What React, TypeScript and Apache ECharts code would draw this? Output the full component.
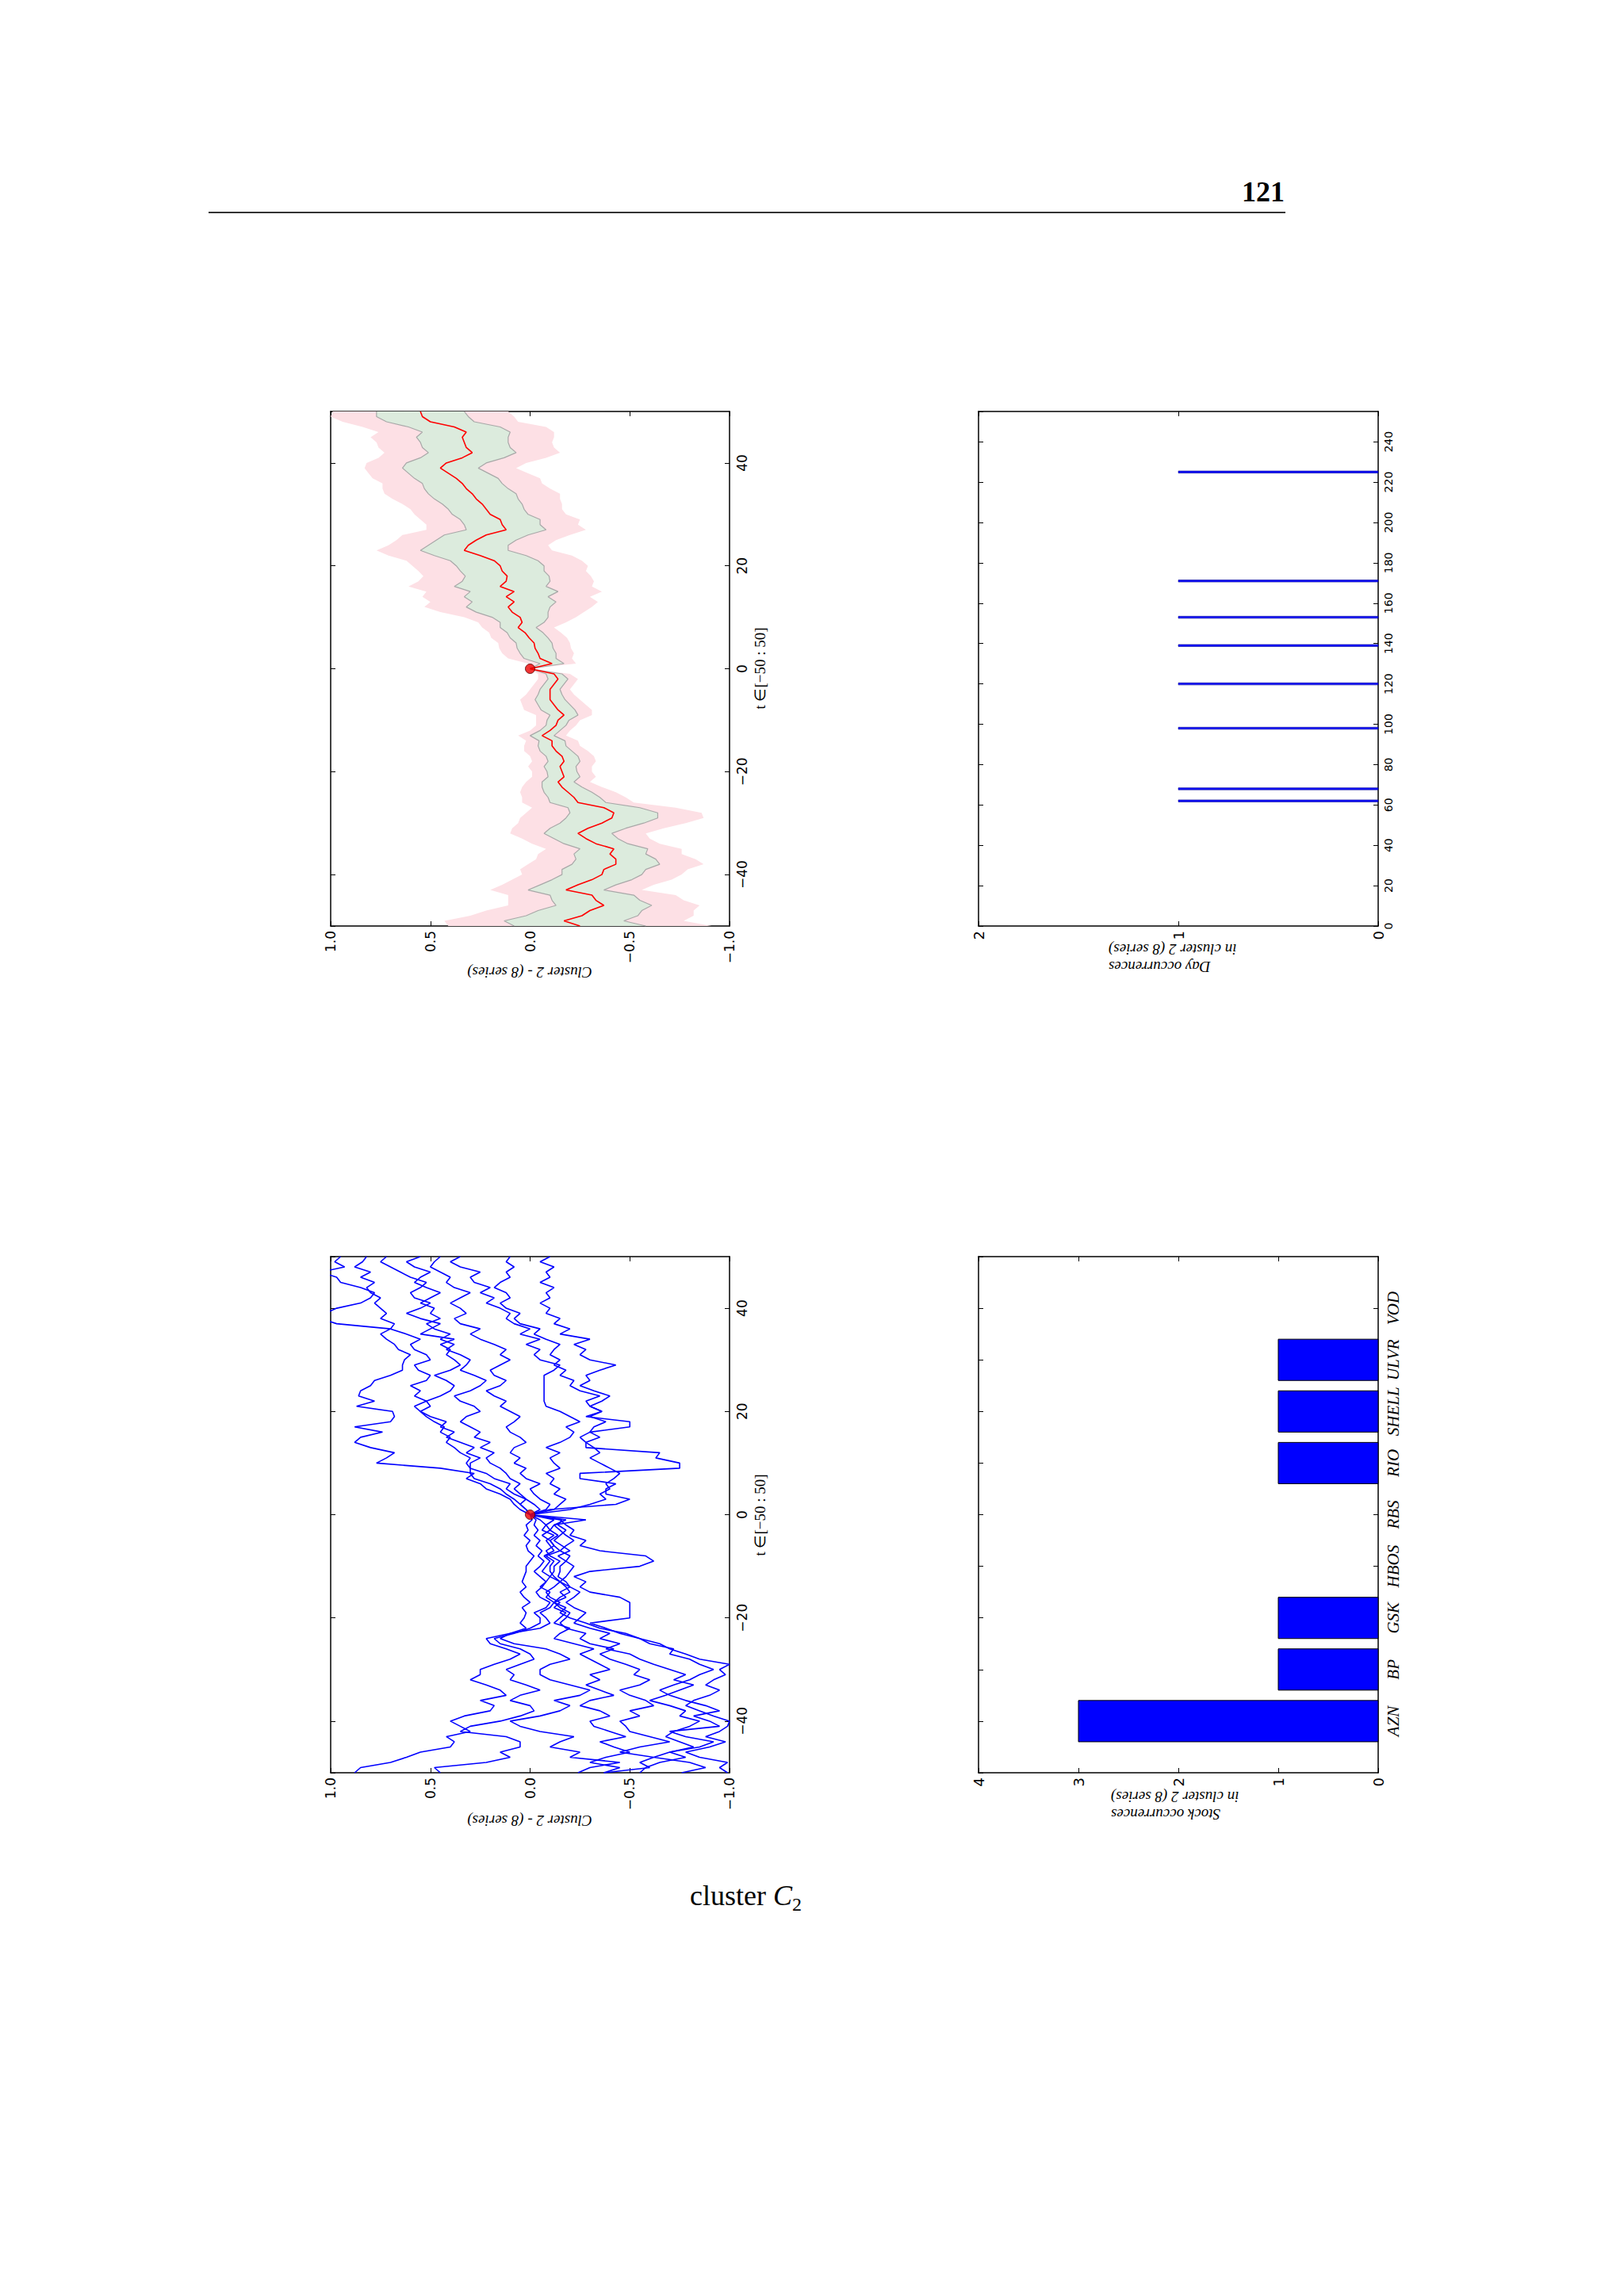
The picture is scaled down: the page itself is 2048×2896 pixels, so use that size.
import React, { useEffect, useRef } from 'react';
import * as echarts from 'echarts';

// ---------- data ----------
const tSteps = Array.from({ length: 101 }, (_, i) => i - 50);

const meanVals = [
  -0.25, -0.17, -0.26, -0.30, -0.37, -0.33, -0.31, -0.18, -0.24, -0.31,
  -0.36, -0.37, -0.43, -0.43, -0.40, -0.42, -0.33, -0.28, -0.24, -0.29,
  -0.36, -0.41, -0.42, -0.37, -0.24, -0.22, -0.19, -0.16, -0.14, -0.17,
  -0.16, -0.15, -0.17, -0.16, -0.13, -0.11, -0.11, -0.06, -0.10, -0.13,
  -0.14, -0.17, -0.14, -0.12, -0.10, -0.10, -0.10, -0.12, -0.14, -0.12,
  0,
  -0.11, -0.05, -0.04, -0.025, -0.02, 0.005, 0.025, 0.06, 0.04, 0.05,
  0.09, 0.11, 0.08, 0.12, 0.08, 0.15, 0.12, 0.115, 0.14, 0.15,
  0.18, 0.25, 0.33, 0.31, 0.27, 0.22, 0.12, 0.14, 0.15, 0.20,
  0.22, 0.24, 0.27, 0.29, 0.32, 0.34, 0.37, 0.41, 0.45, 0.42,
  0.34, 0.29, 0.32, 0.33, 0.34, 0.32, 0.38, 0.50, 0.54, 0.55,
];

const stdVals = [
  0.33, 0.30, 0.28, 0.26, 0.24, 0.22, 0.21, 0.19, 0.19, 0.20,
  0.20, 0.21, 0.22, 0.20, 0.18, 0.17, 0.16, 0.16, 0.17, 0.19,
  0.21, 0.23, 0.22, 0.18, 0.14, 0.13, 0.12, 0.10, 0.08, 0.08,
  0.075, 0.08, 0.08, 0.08, 0.08, 0.07, 0.065, 0.06, 0.05, 0.05,
  0.055, 0.07, 0.085, 0.08, 0.075, 0.06, 0.05, 0.05, 0.05, 0.04,
  0,
  0.06, 0.08, 0.09, 0.09, 0.09, 0.095, 0.09, 0.09, 0.11, 0.14,
  0.18, 0.21, 0.21, 0.21, 0.22, 0.23, 0.22, 0.21, 0.21, 0.22,
  0.22, 0.23, 0.22, 0.20, 0.20, 0.21, 0.20, 0.19, 0.20, 0.19,
  0.19, 0.20, 0.21, 0.22, 0.21, 0.20, 0.21, 0.20, 0.19, 0.20,
  0.21, 0.22, 0.22, 0.22, 0.23, 0.22, 0.23, 0.22, 0.23, 0.22,
];

const seriesA = [
  0.88, 0.85, 0.70, 0.62, 0.55, 0.40, 0.38, 0.42, 0.30, 0.35,
  0.40, 0.33, 0.20, 0.18, 0.25, 0.12, 0.15, 0.22, 0.30, 0.25,
  0.25, 0.18, 0.10, 0.05, 0.12, 0.20, 0.22, 0.10, 0.02, 0.05,
  0.03, 0.02, 0.04, 0.00, 0.03, 0.05, 0.02, 0.04, 0.03, 0.02,
  0.02, 0.00, -0.02, 0.01, 0.02, 0.00, 0.03, 0.01, 0.02, -0.01,
  0,
  0.02, 0.05, 0.08, 0.12, 0.15, 0.20, 0.28, 0.30, 0.30, 0.32,
  0.30, 0.35, 0.38, 0.42, 0.40, 0.45, 0.43, 0.48, 0.52, 0.55,
  0.50, 0.52, 0.58, 0.55, 0.60, 0.52, 0.50, 0.56, 0.58, 0.50,
  0.52, 0.58, 0.60, 0.55, 0.62, 0.70, 0.68, 0.75, 0.72, 0.75,
  0.78, 0.75, 0.80, 0.82, 0.78, 0.85, 0.80, 0.88, 0.84, 0.82,
];
const seriesB = [
  0.45, 0.48, 0.22, 0.10, 0.15, 0.05, 0.05, 0.12, 0.35, 0.30,
  0.15, 0.05, -0.02, 0.00, 0.10, 0.05, -0.05, 0.02, 0.10, 0.08,
  0.12, 0.05, -0.02, 0.00, 0.05, 0.15, 0.18, 0.08, 0.00, -0.05,
  -0.05, -0.02, -0.08, -0.10, -0.05, -0.03, -0.06, -0.08, -0.05, -0.02,
  -0.05, -0.07, -0.04, -0.06, -0.03, -0.05, -0.02, -0.04, -0.02, -0.03,
  0,
  0.05, 0.08, 0.10, 0.15, 0.22, 0.25, 0.32, 0.28, 0.45, 0.77,
  0.72, 0.68, 0.80, 0.88, 0.85, 0.74, 0.88, 0.70, 0.68, 0.69,
  0.87, 0.78, 0.86, 0.85, 0.80, 0.78, 0.70, 0.64, 0.64, 0.63,
  0.60, 0.66, 0.68, 0.72, 0.75, 0.70, 0.97, 1.05, 1.03, 0.97,
  0.85, 0.80, 0.78, 0.85, 0.95, 0.97, 1.05, 0.93, 0.98, 0.95,
];
const seriesC = [
  -0.24, -0.30, -0.45, -0.20, -0.25, -0.10, -0.15, -0.22, -0.05, 0.05,
  0.10, -0.05, -0.15, -0.20, -0.12, -0.25, -0.30, -0.20, -0.10, -0.05,
  -0.05, -0.10, -0.20, -0.15, -0.08, 0.08, 0.15, 0.10, -0.05, -0.10,
  -0.08, -0.05, -0.10, -0.12, -0.08, -0.10, -0.05, -0.08, -0.10, -0.06,
  -0.08, -0.10, -0.07, -0.12, -0.10, -0.08, -0.12, -0.06, -0.08, -0.05,
  0,
  0.02, 0.05, 0.02, 0.08, 0.12, 0.10, 0.18, 0.22, 0.30, 0.30,
  0.25, 0.32, 0.28, 0.35, 0.42, 0.38, 0.45, 0.42, 0.50, 0.55,
  0.58, 0.52, 0.45, 0.40, 0.38, 0.42, 0.48, 0.40, 0.35, 0.38,
  0.42, 0.40, 0.45, 0.38, 0.55, 0.50, 0.45, 0.55, 0.62, 0.55,
  0.50, 0.58, 0.60, 0.55, 0.52, 0.60, 0.65, 0.70, 0.75, 0.72,
];
const seriesD = [
  -0.37, -0.45, -0.30, -0.38, -0.50, -0.42, -0.35, -0.48, -0.40, -0.32,
  -0.30, -0.40, -0.35, -0.25, -0.30, -0.42, -0.35, -0.28, -0.35, -0.30,
  -0.40, -0.35, -0.30, -0.25, -0.32, -0.22, -0.12, -0.15, -0.20, -0.12,
  -0.15, -0.18, -0.12, -0.15, -0.10, -0.08, -0.12, -0.15, -0.10, -0.12,
  -0.12, -0.15, -0.10, -0.08, -0.12, -0.10, -0.06, -0.10, -0.08, -0.12,
  0,
  -0.05, -0.02, 0.02, 0.05, 0.08, 0.05, 0.10, 0.12, 0.15, 0.20,
  0.22, 0.18, 0.25, 0.20, 0.28, 0.25, 0.30, 0.35, 0.32, 0.25,
  0.28, 0.35, 0.38, 0.30, 0.25, 0.22, 0.28, 0.35, 0.32, 0.30,
  0.35, 0.42, 0.38, 0.45, 0.40, 0.48, 0.52, 0.45, 0.50, 0.48,
  0.55, 0.50, 0.45, 0.52, 0.58, 0.55, 0.50, 0.58, 0.62, 0.55,
];
const seriesE = [
  -0.37, -0.60, -0.55, -0.62, -0.45, -0.55, -0.70, -0.60, -0.50, -0.48,
  -0.45, -0.55, -0.50, -0.62, -0.58, -0.50, -0.45, -0.55, -0.60, -0.52,
  -0.55, -0.48, -0.40, -0.35, -0.42, -0.30, -0.25, -0.28, -0.18, -0.15,
  -0.18, -0.20, -0.15, -0.12, -0.18, -0.15, -0.20, -0.18, -0.14, -0.15,
  -0.15, -0.18, -0.14, -0.20, -0.16, -0.12, -0.15, -0.18, -0.14, -0.16,
  0,
  -0.08, -0.10, -0.05, -0.02, 0.00, -0.05, 0.02, 0.05, 0.02, 0.08,
  0.05, 0.10, 0.08, 0.02, 0.05, 0.10, 0.12, 0.08, 0.05, 0.10,
  0.15, 0.12, 0.18, 0.22, 0.15, 0.12, 0.18, 0.20, 0.15, 0.10,
  0.15, 0.12, 0.18, 0.25, 0.30, 0.25, 0.35, 0.38, 0.32, 0.35,
  0.40, 0.35, 0.30, 0.38, 0.42, 0.40, 0.45, 0.50, 0.48, 0.45,
];
const seriesF = [
  -0.55, -0.58, -0.65, -0.78, -0.70, -0.82, -0.75, -0.68, -0.72, -0.80,
  -0.85, -0.75, -0.78, -0.70, -0.60, -0.68, -0.75, -0.82, -0.72, -0.78,
  -0.70, -0.62, -0.55, -0.50, -0.38, -0.45, -0.35, -0.40, -0.30, -0.22,
  -0.25, -0.28, -0.22, -0.18, -0.22, -0.25, -0.20, -0.15, -0.18, -0.20,
  -0.22, -0.18, -0.20, -0.15, -0.18, -0.22, -0.18, -0.15, -0.12, -0.18,
  0,
  -0.12, -0.15, -0.18, -0.12, -0.15, -0.10, -0.12, -0.08, -0.15, -0.12,
  -0.10, -0.15, -0.08, -0.15, -0.20, -0.22, -0.18, -0.25, -0.20, -0.15,
  -0.08, -0.07, -0.07, -0.07, -0.07, -0.07, -0.07, -0.12, -0.15, -0.05,
  -0.02, -0.05, 0.02, -0.05, 0.05, 0.00, 0.08, 0.12, 0.10, 0.15,
  0.22, 0.18, 0.25, 0.20, 0.28, 0.30, 0.25, 0.35, 0.40, 0.35,
];
const seriesG = [
  -0.76, -0.88, -0.80, -0.62, -0.70, -0.85, -0.92, -0.78, -0.70, -0.95,
  -0.90, -0.82, -0.95, -0.88, -0.78, -0.70, -0.65, -0.72, -0.80, -0.85,
  -0.92, -0.85, -0.80, -0.70, -0.72, -0.60, -0.55, -0.45, -0.38, -0.30,
  -0.50, -0.50, -0.50, -0.50, -0.45, -0.30, -0.25, -0.28, -0.22, -0.30,
  -0.55, -0.62, -0.58, -0.35, -0.25, -0.28, -0.20, -0.22, -0.18, -0.15,
  0,
  -0.20, -0.30, -0.38, -0.35, -0.40, -0.38, -0.42, -0.45, -0.40, -0.35,
  -0.30, -0.35, -0.32, -0.28, -0.35, -0.30, -0.32, -0.38, -0.30, -0.36,
  -0.30, -0.28, -0.35, -0.25, -0.20, -0.22, -0.15, -0.18, -0.12, -0.15,
  -0.10, -0.12, -0.15, -0.08, -0.02, -0.05, 0.05, 0.08, 0.05, 0.12,
  0.15, 0.10, 0.12, 0.18, 0.15, 0.10, 0.12, 0.08, 0.12, 0.10,
];
const seriesH = [
  -0.99, -0.95, -0.99, -0.85, -0.78, -0.90, -0.98, -0.88, -0.95, -0.99,
  -1.00, -0.92, -0.85, -0.78, -0.82, -0.90, -0.95, -0.88, -0.92, -0.98,
  -0.95, -1.00, -0.85, -0.78, -0.70, -0.65, -0.55, -0.48, -0.35, -0.28,
  -0.20, -0.15, -0.18, -0.12, -0.15, -0.20, -0.18, -0.15, -0.12, -0.10,
  -0.10, -0.12, -0.08, -0.15, -0.12, -0.10, -0.14, -0.10, -0.12, -0.28,
  0,
  -0.10, -0.43, -0.50, -0.38, -0.38, -0.43, -0.25, -0.25, -0.75, -0.75,
  -0.63, -0.65, -0.28, -0.28, -0.25, -0.30, -0.50, -0.50, -0.28, -0.36,
  -0.30, -0.36, -0.40, -0.32, -0.25, -0.30, -0.28, -0.35, -0.43, -0.30,
  -0.25, -0.28, -0.22, -0.30, -0.15, -0.20, -0.12, -0.15, -0.08, -0.10,
  -0.05, -0.10, -0.08, -0.12, -0.05, -0.10, -0.08, -0.12, -0.05, -0.10,
];
const clusterSeries = [seriesA, seriesB, seriesC, seriesD, seriesE, seriesF, seriesG, seriesH];

const dayOccurrences = [62, 68, 98, 120, 139, 153, 171, 225];
const dayCounts = [1, 1, 1, 1, 1, 1, 1, 1];

const stockNames = ['AZN', 'BP', 'GSK', 'HBOS', 'RBS', 'RIO', 'SHELL', 'ULVR', 'VOD'];
const stockCounts = [3, 1, 1, 0, 0, 1, 1, 1, 0];

// ---------- helpers ----------
const MINUS = '\u2212';
const fmtVal = (v: number) => v.toFixed(1).replace('-', MINUS);
const fmtInt = (v: number) => String(Math.round(v)).replace('-', MINUS);
const tickFont = { fontFamily: 'DejaVu Sans', fontSize: 17, color: '#000' };
const nameFont = 'italic 19px "Liberation Serif"';

function axis(gridIndex: number, position: string, extra: any) {
  return {
    type: 'value',
    gridIndex,
    position,
    axisLine: { show: true, onZero: false, lineStyle: { color: '#000', width: 1.5 } },
    axisTick: { show: true, inside: true, length: 6, lineStyle: { color: '#000', width: 1 } },
    splitLine: { show: false },
    ...extra,
  };
}

function bandSeries(k: number, fill: string) {
  return {
    type: 'custom',
    xAxisIndex: 0,
    yAxisIndex: 0,
    data: [[0, 0]],
    z: 1,
    renderItem: (params: any, api: any) => {
      const pts: number[][] = [];
      for (let i = 0; i < tSteps.length; i++) pts.push(api.coord([meanVals[i] + k * stdVals[i], tSteps[i]]));
      for (let i = tSteps.length - 1; i >= 0; i--) pts.push(api.coord([meanVals[i] - k * stdVals[i], tSteps[i]]));
      return { type: 'polygon', shape: { points: pts }, style: { fill } };
    },
  };
}

function edgeLine(sign: number) {
  return {
    type: 'line',
    xAxisIndex: 0,
    yAxisIndex: 0,
    symbol: 'none',
    z: 3,
    lineStyle: { color: '#a8a8a8', width: 1.2 },
    data: tSteps.map((t, i) => [meanVals[i] + sign * stdVals[i], t]),
  };
}

function hBarRender(thickness: number, fill: string, stroke: string, lw: number) {
  return (params: any, api: any) => {
    const v = api.value(0);
    const c = api.value(1);
    if (!v) return;
    const p0 = api.coord([0, c]);
    const p1 = api.coord([v, c]);
    const h = Math.abs(api.size([0, thickness])[1]);
    return {
      type: 'rect',
      shape: { x: Math.min(p0[0], p1[0]), y: p0[1] - h / 2, width: Math.abs(p1[0] - p0[0]), height: h },
      style: { fill, stroke, lineWidth: lw },
    };
  };
}

export default function App() {
  const ref = useRef<HTMLDivElement>(null);
  useEffect(() => {
    if (!ref.current) return;
    const chart = echarts.init(ref.current, undefined, { renderer: 'svg' });

    const grids = [
      { left: 417, top: 519, width: 503, height: 649 },
      { left: 1234, top: 519, width: 504, height: 649 },
      { left: 417, top: 1585, width: 503, height: 651 },
      { left: 1234, top: 1585, width: 504, height: 651 },
    ].map((g) => ({ ...g, containLabel: false, outerBoundsMode: 'none' }));

    const valueAxisExtra = (show: boolean) => ({
      min: -1, max: 1, interval: 0.5, inverse: true,
      axisLabel: show ? { show: true, rotate: 90, margin: 6, formatter: fmtVal, ...tickFont } : { show: false },
    });
    const tAxisExtra = (show: boolean) => ({
      min: -50, max: 50, splitNumber: 5,
      axisLabel: show
        ? { show: true, rotate: 90, margin: 7, showMinLabel: false, showMaxLabel: false, formatter: fmtInt, ...tickFont }
        : { show: false },
    });

    const xAxis = [
      axis(0, 'bottom', valueAxisExtra(true)),
      axis(0, 'top', valueAxisExtra(false)),
      axis(1, 'bottom', {
        min: 0, max: 2, interval: 1, inverse: true,
        axisLabel: { show: true, rotate: 90, margin: 6, formatter: fmtInt, ...tickFont, fontSize: 18 },
      }),
      axis(1, 'top', { min: 0, max: 2, interval: 1, inverse: true, axisLabel: { show: false } }),
      axis(2, 'bottom', valueAxisExtra(true)),
      axis(2, 'top', valueAxisExtra(false)),
      axis(3, 'bottom', {
        min: 0, max: 4, interval: 1, inverse: true,
        axisLabel: { show: true, rotate: 90, margin: 6, formatter: fmtInt, ...tickFont, fontSize: 18 },
      }),
      axis(3, 'top', { min: 0, max: 4, interval: 1, inverse: true, axisLabel: { show: false } }),
    ];

    const yAxis = [
      axis(0, 'right', tAxisExtra(true)),
      axis(0, 'left', tAxisExtra(false)),
      axis(1, 'right', {
        min: 0, max: 255, interval: 20,
        axisLabel: { show: true, rotate: 90, margin: 6, showMaxLabel: false, formatter: fmtInt, ...tickFont, fontSize: 14 },
      }),
      axis(1, 'left', { min: 0, max: 255, interval: 20, axisLabel: { show: false } }),
      axis(2, 'right', tAxisExtra(true)),
      axis(2, 'left', tAxisExtra(false)),
      axis(3, 'right', {
        min: -1, max: 9, interval: 1,
        axisLabel: {
          show: true, rotate: 90, margin: 8,
          showMinLabel: false, showMaxLabel: false,
          formatter: (v: number) => stockNames[Math.round(v)] || '',
          fontFamily: 'Liberation Serif', fontStyle: 'italic', fontSize: 21, color: '#000',
        },
      }),
      axis(3, 'left', { min: -1, max: 9, interval: 1, axisLabel: { show: false } }),
    ];

    const series: any[] = [
      bandSeries(2, '#fde0e5'),
      bandSeries(1, '#dcebdd'),
      edgeLine(1),
      edgeLine(-1),
      {
        type: 'line', xAxisIndex: 0, yAxisIndex: 0, symbol: 'none', z: 4,
        lineStyle: { color: '#ff0000', width: 1.6 },
        data: tSteps.map((t, i) => [meanVals[i], t]),
      },
      {
        type: 'scatter', xAxisIndex: 0, yAxisIndex: 0, z: 5, symbolSize: 12,
        itemStyle: { color: '#ee0000', borderColor: '#550000', borderWidth: 1 },
        data: [[meanVals[50], tSteps[50]]],
      },
      {
        type: 'custom', xAxisIndex: 2, yAxisIndex: 2, z: 3,
        renderItem: hBarRender(1, '#1010ff', '#000090', 0.6),
        data: dayOccurrences.map((d, i) => [dayCounts[i], d]),
      },
      ...clusterSeries.map((s) => ({
        type: 'line', xAxisIndex: 4, yAxisIndex: 4, symbol: 'none', z: 3,
        lineStyle: { color: '#0000ff', width: 1.6 },
        data: tSteps.map((t, i) => [s[i], t]),
      })),
      {
        type: 'scatter', xAxisIndex: 4, yAxisIndex: 4, z: 5, symbolSize: 12,
        itemStyle: { color: '#ee0000', borderColor: '#550000', borderWidth: 1 },
        data: [[seriesA[50], tSteps[50]]],
      },
      {
        type: 'custom', xAxisIndex: 6, yAxisIndex: 6, z: 3,
        renderItem: hBarRender(0.8, '#0000ff', '#000000', 1),
        data: stockNames.map((_, i) => [stockCounts[i], i]),
      },
    ];

    const graphic: any[] = [
      {
        type: 'text', x: 1620, y: 242,
        style: { text: '121', font: 'bold 36px "Liberation Serif"', fill: '#000', align: 'right', verticalAlign: 'middle' },
      },
      { type: 'line', shape: { x1: 263, y1: 268, x2: 1621, y2: 268 }, style: { stroke: '#333', lineWidth: 2 } },
      {
        type: 'text', x: 870, y: 2391,
        style: { text: 'cluster', font: '36px "Liberation Serif"', fill: '#000', align: 'left', verticalAlign: 'middle' },
      },
      {
        type: 'text', x: 975, y: 2391,
        style: { text: 'C', font: 'italic 36px "Liberation Serif"', fill: '#000', align: 'left', verticalAlign: 'middle' },
      },
      {
        type: 'text', x: 999, y: 2402,
        style: { text: '2', font: '24px "Liberation Serif"', fill: '#000', align: 'left', verticalAlign: 'middle' },
      },
      {
        type: 'text', x: 668, y: 1226, rotation: Math.PI,
        style: { text: 'Cluster 2 - (8 series)', font: nameFont, fill: '#000', align: 'center', verticalAlign: 'middle' },
      },
      {
        type: 'text', x: 958, y: 843, rotation: Math.PI / 2,
        style: { text: 't \u2208[\u221250 : 50]', font: '19px "Liberation Serif"', fill: '#000', align: 'center', verticalAlign: 'middle' },
      },
      {
        type: 'text', x: 668, y: 2296, rotation: Math.PI,
        style: { text: 'Cluster 2 - (8 series)', font: nameFont, fill: '#000', align: 'center', verticalAlign: 'middle' },
      },
      {
        type: 'text', x: 958, y: 1911, rotation: Math.PI / 2,
        style: { text: 't \u2208[\u221250 : 50]', font: '19px "Liberation Serif"', fill: '#000', align: 'center', verticalAlign: 'middle' },
      },
      {
        type: 'text', x: 1398, y: 1208, rotation: Math.PI,
        style: {
          text: 'Day occurrences\nin cluster 2 (8 series)', font: nameFont, lineHeight: 22,
          fill: '#000', align: 'right', verticalAlign: 'middle',
        },
      },
      {
        type: 'text', x: 1401, y: 2277, rotation: Math.PI,
        style: {
          text: 'Stock occurrences\nin cluster 2 (8 series)', font: nameFont, lineHeight: 22,
          fill: '#000', align: 'right', verticalAlign: 'middle',
        },
      },
    ];

    chart.setOption({
      animation: false,
      backgroundColor: '#ffffff',
      textStyle: { fontFamily: 'DejaVu Sans' },
      grid: grids,
      xAxis,
      yAxis,
      series,
      graphic,
    });
    return () => chart.dispose();
  }, []);

  return (
    <div
      ref={ref}
      style={{ position: 'absolute', left: 0, top: 0, width: 2048, height: 2896, background: '#fff' }}
    />
  );
}
